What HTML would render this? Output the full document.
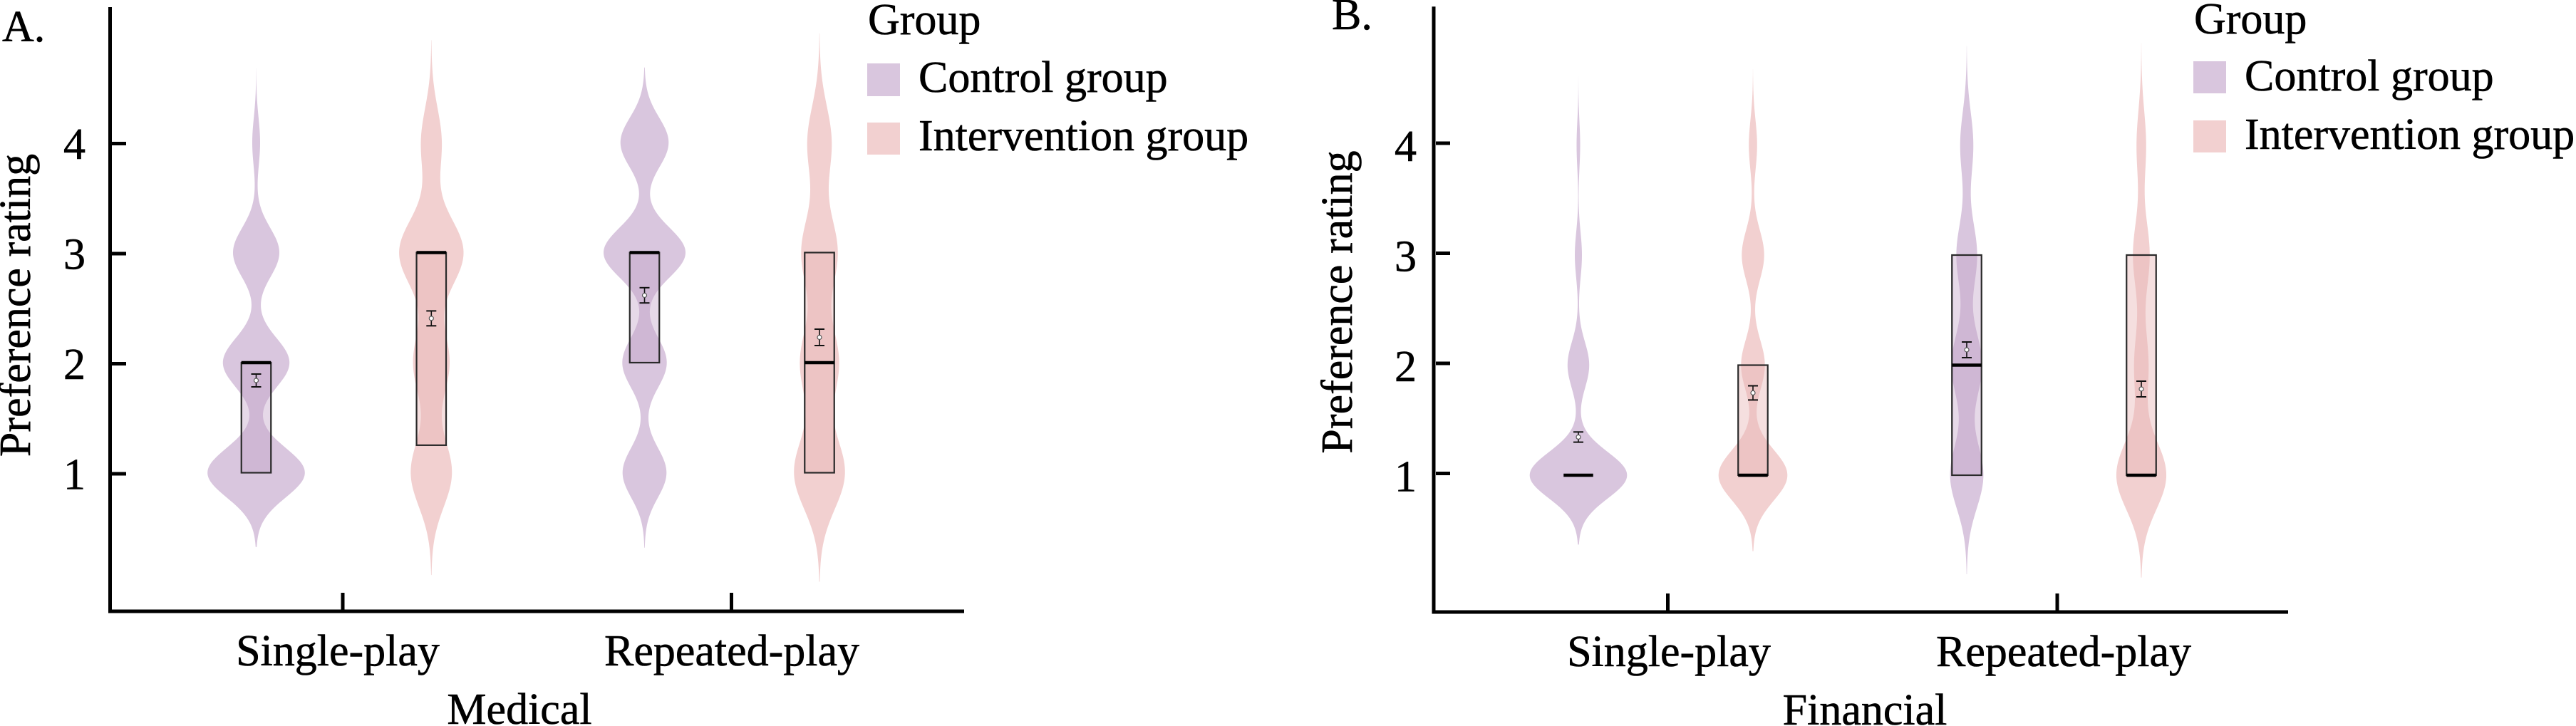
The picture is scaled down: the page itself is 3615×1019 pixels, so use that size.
<!DOCTYPE html>
<html>
<head>
<meta charset="utf-8">
<style>
  html,body{margin:0;padding:0;background:#ffffff;}
  svg{display:block;}
  text{font-family:"Liberation Serif","Times New Roman",serif;font-size:62px;fill:#000;stroke:#000;stroke-width:0.6px;}
</style>
</head>
<body>
<svg id="s" xmlns="http://www.w3.org/2000/svg" width="3615" height="1019" viewBox="0 0 3615 1019">
  <rect x="0" y="0" width="3615" height="1019" fill="#ffffff"/>
  <g id="vio"></g>

  <!-- ===== Panel A axes ===== -->
  <g stroke="#000" stroke-width="5" fill="none">
    <line x1="154.5" y1="10" x2="154.5" y2="860.5"/>
    <line x1="152" y1="858" x2="1353" y2="858"/>
    <line x1="157" y1="201.5" x2="177" y2="201.5"/>
    <line x1="157" y1="356" x2="177" y2="356"/>
    <line x1="157" y1="510.5" x2="177" y2="510.5"/>
    <line x1="157" y1="665" x2="177" y2="665"/>
    <line x1="481" y1="832" x2="481" y2="858"/>
    <line x1="1026.5" y1="832" x2="1026.5" y2="858"/>
  </g>
  <!-- ===== Panel B axes ===== -->
  <g stroke="#000" stroke-width="5" fill="none">
    <line x1="2012" y1="9.3" x2="2012" y2="861.5"/>
    <line x1="2009.5" y1="859" x2="3211" y2="859"/>
    <line x1="2015" y1="201" x2="2035" y2="201"/>
    <line x1="2015" y1="355.5" x2="2035" y2="355.5"/>
    <line x1="2015" y1="510" x2="2035" y2="510"/>
    <line x1="2015" y1="664.5" x2="2035" y2="664.5"/>
    <line x1="2340.5" y1="833" x2="2340.5" y2="859"/>
    <line x1="2887" y1="833" x2="2887" y2="859"/>
  </g>

  <!-- Panel labels -->
  <text x="3" y="58">A.</text>
  <text x="1869" y="41">B.</text>

  <!-- Tick labels A -->
  <g text-anchor="end">
    <text x="120" y="223">4</text>
    <text x="120" y="377.5">3</text>
    <text x="120" y="532">2</text>
    <text x="120" y="686.5">1</text>
  </g>
  <!-- Tick labels B -->
  <g text-anchor="end">
    <text x="1988" y="226">4</text>
    <text x="1988" y="380.5">3</text>
    <text x="1988" y="535">2</text>
    <text x="1988" y="689.5">1</text>
  </g>

  <!-- Y axis titles -->
  <text transform="translate(42,428.5) rotate(-90)" text-anchor="middle">Preference rating</text>
  <text transform="translate(1897,424) rotate(-90)" text-anchor="middle">Preference rating</text>

  <!-- X tick labels -->
  <g text-anchor="middle">
    <text x="474" y="934">Single-play</text>
    <text x="1027" y="934">Repeated-play</text>
    <text x="2342" y="935">Single-play</text>
    <text x="2896" y="935">Repeated-play</text>
    <text x="729" y="1016">Medical</text>
    <text x="2617" y="1017">Financial</text>
  </g>

  <!-- Legend A -->
  <text x="1218" y="48">Group</text>
  <rect x="1217" y="89" width="46" height="46" fill="#D9C6DE"/>
  <rect x="1217" y="172" width="46" height="45" fill="#F2D0D0"/>
  <text x="1289" y="129">Control group</text>
  <text x="1289" y="211">Intervention group</text>

  <!-- Legend B -->
  <text x="3079" y="47">Group</text>
  <rect x="3078" y="86" width="46" height="45" fill="#D9C6DE"/>
  <rect x="3078" y="169" width="46" height="45" fill="#F2D0D0"/>
  <text x="3150" y="127">Control group</text>
  <text x="3150" y="209">Intervention group</text>
</svg>

<script>
(function(){
  var NS='http://www.w3.org/2000/svg';
  var g=document.getElementById('vio');
  function add(tag,attrs){var e=document.createElementNS(NS,tag);for(var k in attrs)e.setAttribute(k,attrs[k]);g.appendChild(e);return e;}
  var CC='#D9C6DE', CI='#F2D0D0';
  var BC='rgba(193,160,197,0.4)', BI='rgba(231,179,179,0.42)';
  function Y(p,v){return p==='L'?200+(4-v)*154.5:203.5+(4-v)*154.5;}
  var V=[
    {cx:359.5, s:0.225,w:[68.3,46.7,32.5,5.5], c:CC,b:BC,p:'L',q1:1,q3:2,md:2,eb:[525,543]},
    {cx:605.3, s:0.31, w:[28.8,25.3,45,14.5],  c:CI,b:BI,p:'L',q1:1.25,q3:3,md:3,eb:[436.4,457.3]},
    {cx:904.5, s:0.227,w:[30.8,31.2,57.5,33.8],c:CC,b:BC,p:'L',q1:2,q3:3,md:3,eb:[403.8,425.2]},
    {cx:1150,  s:0.33, w:[35.5,27,25.3,17],    c:CI,b:BI,p:'L',q1:1,q3:3,md:2,eb:[462,485]},
    {cx:2215,  s:0.21, w:[68.3,15.2,5,2.5],    c:CC,b:BC,p:'R',q1:1,q3:1,md:1,eb:[606.3,620.6]},
    {cx:2460,  s:0.23, w:[48.3,16.7,15.7,5.8], c:CI,b:BI,p:'R',q1:1,q3:2,md:1,eb:[541.5,561.4]},
    {cx:2760,  s:0.30, w:[23.3,21.5,14.5,9.2], c:CC,b:BC,p:'R',q1:1,q3:3,md:2,eb:[480,502]},
    {cx:3005,  s:0.31, w:[35,10,11.7,6.7],     c:CI,b:BI,p:'R',q1:1,q3:3,md:1,eb:[535,557]}
  ];
  V.forEach(function(o){
    var lo=1-3*o.s, hi=4+3*o.s, N=300, R=[], L=[];
    for(var i=0;i<=N;i++){
      var v=lo+(hi-lo)*i/N, hw=0;
      for(var k=0;k<4;k++){var d=v-(k+1);hw+=o.w[k]*Math.exp(-d*d/(2*o.s*o.s));}
      var y=Y(o.p,v);
      R.push((o.cx+hw).toFixed(2)+','+y.toFixed(2));
      L.push((o.cx-hw).toFixed(2)+','+y.toFixed(2));
    }
    L.reverse();
    add('path',{d:'M'+R.join(' L')+' L'+L.join(' L')+' Z',fill:o.c,stroke:'none'});
    var hwB=20.75;
    if(o.q3!==o.q1){
      var yt=Y(o.p,o.q3), yb=Y(o.p,o.q1);
      add('rect',{x:o.cx-hwB,y:yt,width:2*hwB,height:yb-yt,fill:o.b,stroke:'#2a2a2a','stroke-width':2.2});
    }
    var ym=Y(o.p,o.md);
    add('line',{x1:o.cx-hwB,x2:o.cx+hwB,y1:ym,y2:ym,stroke:'#000','stroke-width':4.5});
    var e0=o.eb[0], e1=o.eb[1], mm=(e0+e1)/2;
    add('line',{x1:o.cx,x2:o.cx,y1:e0,y2:e1,stroke:'#111','stroke-width':1.6});
    add('line',{x1:o.cx-7,x2:o.cx+7,y1:e0,y2:e0,stroke:'#111','stroke-width':2});
    add('line',{x1:o.cx-7,x2:o.cx+7,y1:e1,y2:e1,stroke:'#111','stroke-width':2});
    add('circle',{cx:o.cx,cy:mm,r:3,fill:'#fff',stroke:'#555','stroke-width':1.2});
  });
})();
</script>
</body>
</html>
